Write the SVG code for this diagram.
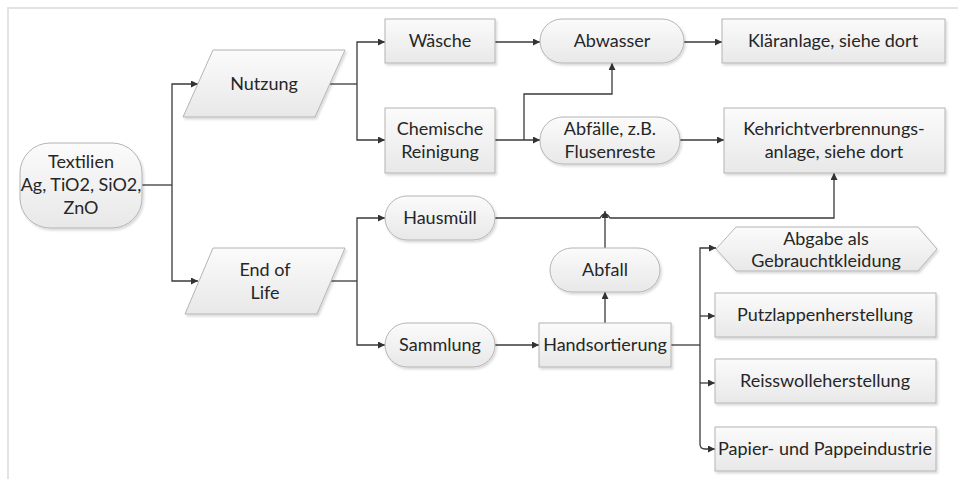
<svg xmlns="http://www.w3.org/2000/svg" width="958" height="479" viewBox="0 0 958 479">
  <defs>
    <linearGradient id="fillGrad" x1="0" y1="0" x2="0" y2="1">
      <stop offset="0" stop-color="#fbfbfb"/>
      <stop offset="1" stop-color="#e8e8e8"/>
    </linearGradient>
    <filter id="shadow" x="-10%" y="-10%" width="130%" height="140%">
      <feDropShadow dx="1.5" dy="2" stdDeviation="1" flood-color="#000" flood-opacity="0.15"/>
    </filter>
    <marker id="arrow" viewBox="0 0 10 10" refX="10" refY="5" markerWidth="7" markerHeight="7" markerUnits="userSpaceOnUse" orient="auto">
      <path d="M0,0 L10,5 L0,10 z" fill="#333"/>
    </marker>
  </defs>
  <style>
    .shape { fill: url(#fillGrad); stroke: #b4b4b4; stroke-width: 1; filter: url(#shadow); }
    .label { font-family: Lato, "Liberation Sans", sans-serif; font-size: 18px; fill: #262626; text-anchor: middle; }
    .conn { fill: none; stroke: #3a3a3a; stroke-width: 1.3; }
    .frame { fill: none; stroke: #e3e3e3; stroke-width: 2; }
  </style>

  <rect width="958" height="479" fill="#fff"/>
  <path class="frame" d="M958,8 H8 V479"/>

  <!-- connectors -->
  <g id="connectors">
    <path class="conn" d="M142,185 H172"/>
    <path class="conn" d="M172,185 V84 H198" marker-end="url(#arrow)"/>
    <path class="conn" d="M172,185 V281 H198" marker-end="url(#arrow)"/>

    <path class="conn" d="M330,84 H357"/>
    <path class="conn" d="M357,84 V42 H385" marker-end="url(#arrow)"/>
    <path class="conn" d="M357,84 V140 H385" marker-end="url(#arrow)"/>

    <path class="conn" d="M495,42 H540" marker-end="url(#arrow)"/>
    <path class="conn" d="M684,42 H722" marker-end="url(#arrow)"/>

    <path class="conn" d="M495,140 H540" marker-end="url(#arrow)"/>
    <path class="conn" d="M524,140 V94 H612 V63" marker-end="url(#arrow)"/>
    <path class="conn" d="M680,140 H724" marker-end="url(#arrow)"/>

    <path class="conn" d="M331,281 H357"/>
    <path class="conn" d="M357,281 V218 H385" marker-end="url(#arrow)"/>
    <path class="conn" d="M357,281 V345 H385" marker-end="url(#arrow)"/>

    <path class="conn" d="M495,218 H600 Q605,210 610,218 H834 V173" marker-end="url(#arrow)"/>

    <path class="conn" d="M495,345 H539" marker-end="url(#arrow)"/>
    <path class="conn" d="M605,323 V292" marker-end="url(#arrow)"/>
    <path class="conn" d="M605,248 V211" marker-end="url(#arrow)"/>

    <path class="conn" d="M671,345 H700"/>
    <path class="conn" d="M700,345 V248 H716" marker-end="url(#arrow)"/>
    <path class="conn" d="M700,316 H715" marker-end="url(#arrow)"/>
    <path class="conn" d="M700,383 H715" marker-end="url(#arrow)"/>
    <path class="conn" d="M700,345 V444 Q700,449 705,449 H715" marker-end="url(#arrow)"/>
  </g>

  <!-- nodes -->
  <g id="textilien">
    <rect class="shape" x="20" y="143" width="122" height="85" rx="30" ry="30"/>
    <text class="label" x="81" y="168">Textilien</text>
    <text class="label" x="81" y="191">Ag, TiO2, SiO2,</text>
    <text class="label" x="81" y="214">ZnO</text>
  </g>

  <g id="nutzung">
    <polygon class="shape" points="213,50 345,50 315,117 183,117"/>
    <text class="label" x="264" y="90">Nutzung</text>
  </g>

  <g id="end-of-life">
    <polygon class="shape" points="213,248 345,248 317,314 185,314"/>
    <text class="label" x="265" y="276">End of</text>
    <text class="label" x="265" y="299">Life</text>
  </g>

  <g id="waesche">
    <rect class="shape" x="385" y="19" width="110" height="44"/>
    <text class="label" x="440" y="47">Wäsche</text>
  </g>

  <g id="chemische-reinigung">
    <rect class="shape" x="385" y="108" width="110" height="65"/>
    <text class="label" x="440" y="135">Chemische</text>
    <text class="label" x="440" y="158">Reinigung</text>
  </g>

  <g id="abwasser">
    <rect class="shape" x="540" y="19" width="144" height="44" rx="22" ry="22"/>
    <text class="label" x="612" y="47">Abwasser</text>
  </g>

  <g id="abfaelle">
    <rect class="shape" x="540" y="117" width="140" height="47" rx="23" ry="23"/>
    <text class="label" x="610" y="135">Abfälle, z.B.</text>
    <text class="label" x="610" y="158">Flusenreste</text>
  </g>

  <g id="klaeranlage">
    <rect class="shape" x="722" y="19" width="223" height="44"/>
    <text class="label" x="833" y="47">Kläranlage, siehe dort</text>
  </g>

  <g id="kehrichtverbrennung">
    <rect class="shape" x="724" y="108" width="221" height="65"/>
    <text class="label" x="834" y="135">Kehrichtverbrennungs-</text>
    <text class="label" x="834" y="158">anlage, siehe dort</text>
  </g>

  <g id="hausmuell">
    <rect class="shape" x="385" y="196" width="110" height="44" rx="22" ry="22"/>
    <text class="label" x="440" y="224">Hausmüll</text>
  </g>

  <g id="sammlung">
    <rect class="shape" x="385" y="323" width="110" height="44" rx="22" ry="22"/>
    <text class="label" x="440" y="351">Sammlung</text>
  </g>

  <g id="abfall">
    <rect class="shape" x="550" y="248" width="110" height="44" rx="22" ry="22"/>
    <text class="label" x="605" y="276">Abfall</text>
  </g>

  <g id="handsortierung">
    <rect class="shape" x="539" y="323" width="132" height="44"/>
    <text class="label" x="605" y="351">Handsortierung</text>
  </g>

  <g id="gebrauchtkleidung">
    <polygon class="shape" points="716,249 736,227 918,227 937,249 918,271 736,271"/>
    <text class="label" x="826" y="245">Abgabe als</text>
    <text class="label" x="826" y="267">Gebrauchtkleidung</text>
  </g>

  <g id="putzlappen">
    <rect class="shape" x="715" y="293" width="221" height="44"/>
    <text class="label" x="825" y="321">Putzlappenherstellung</text>
  </g>

  <g id="reisswolle">
    <rect class="shape" x="715" y="359" width="221" height="44"/>
    <text class="label" x="825" y="387">Reisswolleherstellung</text>
  </g>

  <g id="papier">
    <rect class="shape" x="715" y="427" width="221" height="44"/>
    <text class="label" x="825" y="455">Papier- und Pappeindustrie</text>
  </g>
</svg>
